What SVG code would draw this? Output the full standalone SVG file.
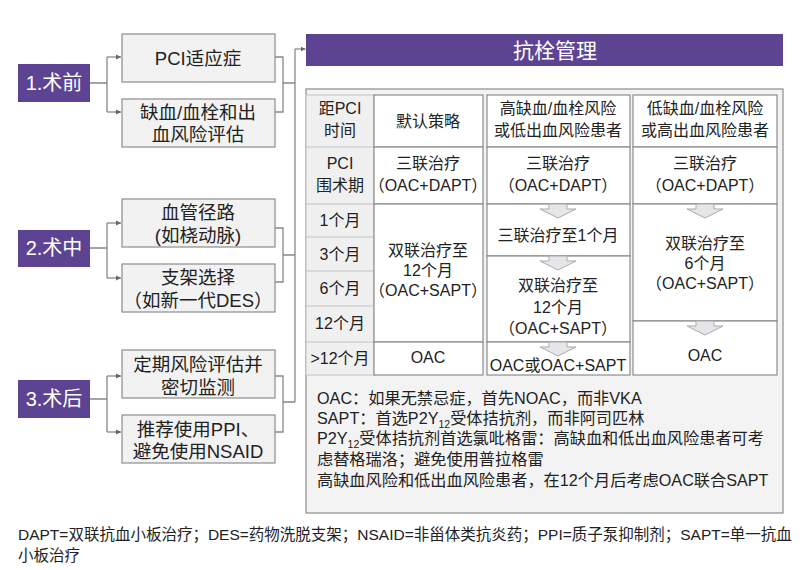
<svg xmlns="http://www.w3.org/2000/svg" width="800" height="570" viewBox="0 0 800 570">
<style>
text{font-family:"Liberation Sans","Noto Sans CJK SC",sans-serif;fill:#222;dominant-baseline:central;text-anchor:middle}
.ph{fill:#5d4493}
.pt{fill:#fff;font-size:20px}
.gb{fill:#f2f2f2;stroke:#8c8c8c;stroke-width:1.2}
.gt{font-size:18.5px}
.cell{fill:#fff;stroke:#8c8c8c;stroke-width:1.2}
.tt{font-size:16px}
.ln{fill:none;stroke:#888;stroke-width:1.3}
.sep{stroke:#c4c4c4;stroke-width:1}
.dn{fill:#e6e6ea;stroke:#aaa;stroke-width:1}
.note{font-size:16.2px;text-anchor:start}
.foot{font-size:15.5px;text-anchor:start}
</style>
<defs>
<marker id="ah" markerWidth="6" markerHeight="6" refX="5" refY="3" orient="auto" markerUnits="userSpaceOnUse">
<path d="M0,0.5 L5,3 L0,5.5 Z" fill="#666"/>
</marker>
<path id="dnarrow" d="M-9,0 L9,0 L9,5 L18,5 L0,14 L-18,5 L-9,5 Z"/>
</defs>
<rect width="800" height="570" fill="#fff"/>

<g id="connectors">
<path class="ln" d="M90,83 H107 M107,57 V112"/>
<path class="ln" d="M107,57 H121" marker-end="url(#ah)"/>
<path class="ln" d="M107,112 H121" marker-end="url(#ah)"/>
<path class="ln" d="M90,248 H107 M107,223 V278"/>
<path class="ln" d="M107,223 H121" marker-end="url(#ah)"/>
<path class="ln" d="M107,278 H121" marker-end="url(#ah)"/>
<path class="ln" d="M90,399 H107 M107,376 V432"/>
<path class="ln" d="M107,376 H121" marker-end="url(#ah)"/>
<path class="ln" d="M107,432 H121" marker-end="url(#ah)"/>
<path class="ln" d="M275,57 H283 V112 H275 M283,83 H295"/>
<path class="ln" d="M275,228 H283 V282 H275 M283,255 H295"/>
<path class="ln" d="M275,376 H283 V432 H275 M283,402 H295"/>
<path class="ln" d="M295,402 V49"/>
<path class="ln" d="M295,49 H305.5" marker-end="url(#ah)"/>
</g>

<g id="n-pre"><rect class="ph" x="18" y="64" width="72" height="38"/><text class="pt" x="54" y="83">1.术前</text></g>
<g id="n-intra"><rect class="ph" x="18" y="230" width="72" height="37"/><text class="pt" x="54" y="248">2.术中</text></g>
<g id="n-post"><rect class="ph" x="18" y="380" width="72" height="38"/><text class="pt" x="54" y="399">3.术后</text></g>

<g id="n-pci"><rect class="gb" x="122" y="34" width="153" height="48"/><text class="gt" x="198" y="58">PCI适应症</text></g>
<g id="n-risk"><rect class="gb" x="122" y="99" width="153" height="48"/><text class="gt" x="198" y="112">缺血/血栓和出</text><text class="gt" x="198" y="134">血风险评估</text></g>
<g id="n-access"><rect class="gb" x="122" y="199" width="153" height="48"/><text class="gt" x="198" y="212">血管径路</text><text class="gt" x="198" y="235">(如桡动脉)</text></g>
<g id="n-stent"><rect class="gb" x="122" y="264" width="153" height="48"/><text class="gt" x="198" y="277">支架选择</text><text class="gt" x="198" y="300">（如新一代DES）</text></g>
<g id="n-monitor"><rect class="gb" x="122" y="350" width="153" height="48"/><text class="gt" x="198" y="364">定期风险评估并</text><text class="gt" x="198" y="387">密切监测</text></g>
<g id="n-ppi"><rect class="gb" x="122" y="415" width="153" height="48"/><text class="gt" x="198" y="429">推荐使用PPI、</text><text class="gt" x="198" y="451">避免使用NSAID</text></g>

<g id="n-header"><rect class="ph" x="306" y="34" width="477" height="32"/><text x="555" y="50" style="fill:#fff;font-size:21px">抗栓管理</text></g>

<g id="n-table">
<rect x="306" y="89" width="477" height="424" fill="#f3f3f3" stroke="#8c8c8c" stroke-width="1.2"/>
<rect x="306" y="95" width="68" height="280" fill="#f0f0f0" stroke="#c4c4c4" stroke-width="1"/>
<path class="sep" d="M306,147 H374 M306,204 H374 M306,237 H374 M306,271 H374 M306,306 H374 M306,342 H374"/>
<text class="tt" x="340" y="108">距PCI</text><text class="tt" x="340" y="130">时间</text>
<text class="tt" x="340" y="163">PCI</text><text class="tt" x="340" y="185">围术期</text>
<text class="tt" x="340" y="220">1个月</text>
<text class="tt" x="340" y="254">3个月</text>
<text class="tt" x="340" y="288">6个月</text>
<text class="tt" x="340" y="323">12个月</text>
<text class="tt" x="340" y="358">&gt;12个月</text>

<rect class="cell" x="374" y="95" width="109" height="52"/>
<rect class="cell" x="374" y="147" width="109" height="57"/>
<rect class="cell" x="374" y="204" width="109" height="138"/>
<rect class="cell" x="374" y="342" width="109" height="33"/>
<text class="tt" x="428" y="121">默认策略</text>
<text class="tt" x="428" y="163">三联治疗</text><text class="tt" x="428" y="185">（OAC+DAPT）</text>
<text class="tt" x="428" y="250">双联治疗至</text><text class="tt" x="428" y="270">12个月</text><text class="tt" x="428" y="290">（OAC+SAPT）</text>
<text class="tt" x="428" y="357">OAC</text>

<rect class="cell" x="487" y="95" width="143" height="52"/>
<rect class="cell" x="487" y="147" width="143" height="57"/>
<rect class="cell" x="487" y="204" width="143" height="52"/>
<rect class="cell" x="487" y="256" width="143" height="86"/>
<rect class="cell" x="487" y="342" width="143" height="33"/>
<text class="tt" x="558" y="108">高缺血/血栓风险</text><text class="tt" x="558" y="130">或低出血风险患者</text>
<text class="tt" x="558" y="163">三联治疗</text><text class="tt" x="558" y="185">（OAC+DAPT）</text>
<text class="tt" x="558" y="235">三联治疗至1个月</text>
<text class="tt" x="558" y="285">双联治疗至</text><text class="tt" x="558" y="307">12个月</text><text class="tt" x="558" y="328">（OAC+SAPT）</text>
<text class="tt" x="558" y="365">OAC或OAC+SAPT</text>

<rect class="cell" x="633" y="95" width="144" height="52"/>
<rect class="cell" x="633" y="147" width="144" height="57"/>
<rect class="cell" x="633" y="204" width="144" height="117"/>
<rect class="cell" x="633" y="321" width="144" height="54"/>
<text class="tt" x="705" y="108">低缺血/血栓风险</text><text class="tt" x="705" y="130">或高出血风险患者</text>
<text class="tt" x="705" y="163">三联治疗</text><text class="tt" x="705" y="185">（OAC+DAPT）</text>
<text class="tt" x="705" y="243">双联治疗至</text><text class="tt" x="705" y="263">6个月</text><text class="tt" x="705" y="283">（OAC+SAPT）</text>
<text class="tt" x="705" y="355">OAC</text>

<use href="#dnarrow" class="dn" x="558" y="204"/>
<use href="#dnarrow" class="dn" x="558" y="256"/>
<use href="#dnarrow" class="dn" x="558" y="342"/>
<use href="#dnarrow" class="dn" x="705" y="204"/>
<use href="#dnarrow" class="dn" x="705" y="321"/>

<text class="note" x="317" y="398">OAC：如果无禁忌症，首先NOAC，而非VKA</text>
<text class="note" x="317" y="418">SAPT：首选P2Y<tspan font-size="10.5px" dy="6">12</tspan><tspan dy="-6">受体拮抗剂，而非阿司匹林</tspan></text>
<text class="note" x="317" y="438">P2Y<tspan font-size="10.5px" dy="6">12</tspan><tspan dy="-6">受体拮抗剂首选氯吡格雷：高缺血和低出血风险患者可考</tspan></text>
<text class="note" x="317" y="459">虑替格瑞洛；避免使用普拉格雷</text>
<text class="note" x="317" y="480">高缺血风险和低出血风险患者，在12个月后考虑OAC联合SAPT</text>
</g>

<g id="footer">
<text class="foot" x="18" y="534">DAPT=双联抗血小板治疗；DES=药物洗脱支架；NSAID=非甾体类抗炎药；PPI=质子泵抑制剂；SAPT=单一抗血</text>
<text class="foot" x="18" y="555">小板治疗</text>
</g>
</svg>
